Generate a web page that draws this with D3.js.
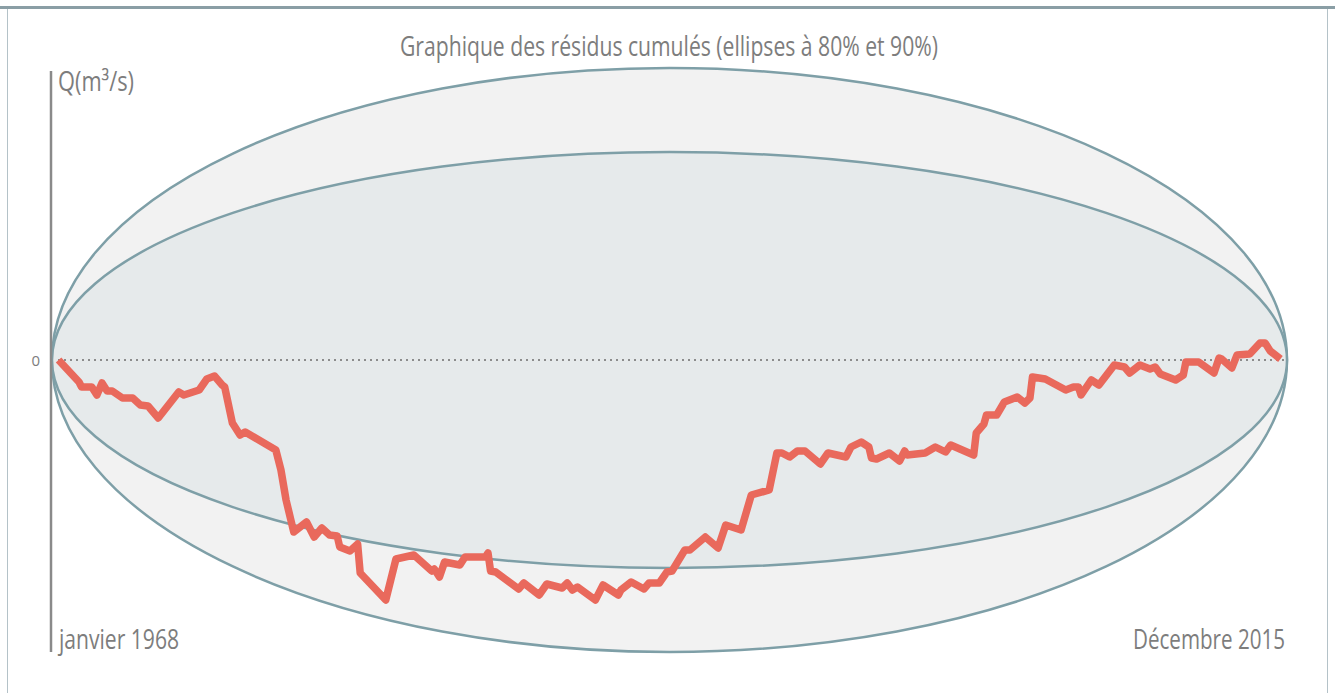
<!DOCTYPE html>
<html>
<head>
<meta charset="utf-8">
<script src="https://cdn.jsdelivr.net/npm/d3@7"></script>
<style>
  html, body { margin: 0; padding: 0; background: #fff; }
  svg { display: block; }
  text { font-family: "Open Sans", "DejaVu Sans", sans-serif; fill: #7d7d7d; }
</style>
</head>
<body>
<div id="chart"></div>
<script>
// Cumulative residuals chart with 80% / 90% confidence ellipses
const W = 1335, H = 693;

// decimal years of each vertex and the cumulative residual
const years = [
  1968.1, 1968.9, 1969.0, 1969.4, 1969.6, 1969.8, 1970.0, 1970.2, 1970.6, 1971.0,
  1971.3, 1971.6, 1972.0, 1972.8, 1973.0, 1973.6, 1973.9, 1974.2, 1974.5, 1974.6,
  1974.9, 1975.2, 1975.4, 1976.6, 1976.8, 1977.0, 1977.3, 1977.8, 1978.1, 1978.4,
  1978.7, 1979.0, 1979.1, 1979.5, 1979.8, 1979.9, 1980.9, 1981.3, 1982.0, 1982.7,
  1982.8, 1983.0, 1983.2, 1983.8, 1984.0, 1984.8, 1984.9, 1985.0, 1985.2, 1986.1,
  1986.3, 1986.9, 1987.2, 1987.8, 1988.0, 1988.2, 1988.4, 1989.1, 1989.4, 1990.0,
  1990.1, 1990.5, 1991.0, 1991.2, 1991.6, 1991.9, 1992.1, 1992.6, 1992.8, 1993.4,
  1993.9, 1994.2, 1994.8, 1995.2, 1995.9, 1996.2, 1996.4, 1996.7, 1997.0, 1997.3,
  1997.9, 1998.2, 1998.9, 1999.1, 1999.5, 1999.8, 1999.9, 2000.1, 2000.6, 2001.0,
  2001.2, 2001.3, 2002.0, 2002.4, 2002.8, 2003.0, 2003.9, 2004.0, 2004.3, 2004.4,
  2004.8, 2005.1, 2005.6, 2005.9, 2006.1, 2006.2, 2006.7, 2007.5, 2007.8, 2008.0,
  2008.1, 2008.5, 2008.8, 2009.4, 2009.8, 2010.0, 2010.4, 2010.8, 2011.0, 2011.2,
  2011.8, 2012.1, 2012.2, 2012.7, 2013.3, 2013.5, 2013.6, 2014.0, 2014.2, 2014.7,
  2015.1, 2015.3, 2015.5, 2015.9
];
const residuals = [
  0, -22, -27, -27, -35, -23, -31, -31, -38, -38,
  -45, -46, -58, -32, -35, -30, -19, -16, -25, -27,
  -63, -75, -72, -90, -110, -140, -172, -162, -177, -168,
  -175, -176, -187, -191, -184, -213, -240, -199, -195, -211,
  -209, -217, -202, -205, -197, -197, -193, -211, -212, -229,
  -223, -235, -224, -228, -223, -230, -227, -240, -225, -235,
  -230, -222, -229, -223, -223, -212, -211, -190, -190, -177,
  -188, -165, -170, -135, -130, -93, -93, -97, -91, -91,
  -104, -93, -97, -87, -82, -87, -98, -99, -93, -101,
  -91, -95, -93, -87, -92, -85, -95, -73, -64, -55,
  -55, -42, -37, -43, -38, -17, -19, -30, -27, -27,
  -35, -20, -25, -5, -7, -13, -5, -9, -7, -14,
  -20, -15, -2, -2, -13, 2, 1, -8, 5, 6,
  17, 17, 9, 1
];

// ellipse half-heights (same units as residuals)
const ellipseLevels = [90, 80];
const ellipseHalf = [292, 208];

const titleText = "Graphique des résidus cumulés (ellipses à 80% et 90%)";
const yLabel = "Q(m³/s)";
const startLabel = "janvier 1968";
const endLabel = "Décembre 2015";
const period = [1968, 2016];

const svg = d3.select("#chart").append("svg").attr("width", W).attr("height", H);

const x = d3.scaleLinear().domain(period).range([56, 1283]);
const y = d3.scaleLinear().domain([-292, 292]).range([652, 68]);

// page frame
svg.append("line").attr("x1", 0).attr("x2", W).attr("y1", 7.5).attr("y2", 7.5)
  .attr("stroke", "#8a9ea5").attr("stroke-width", 3);
svg.append("line").attr("x1", 7.5).attr("x2", 7.5).attr("y1", 9).attr("y2", H)
  .attr("stroke", "#b4c2c8").attr("stroke-width", 1);
svg.append("line").attr("x1", 1327.5).attr("x2", 1327.5).attr("y1", 9).attr("y2", H)
  .attr("stroke", "#b4c2c8").attr("stroke-width", 1);

// ellipses (outer 90%, inner 80%)
const cx = (x(period[0]) + x(period[1])) / 2;
const rx = (x(period[1]) - x(period[0])) / 2 + 4;
svg.append("g").selectAll("ellipse")
  .data(ellipseLevels.map((lvl, i) => ({ lvl, half: ellipseHalf[i] })))
  .join("ellipse")
  .attr("cx", cx)
  .attr("cy", y(0))
  .attr("rx", rx)
  .attr("ry", d => y(0) - y(d.half))
  .attr("fill", d => d.lvl === 90 ? "#f2f2f2" : "#e6eaeb")
  .attr("stroke", "#7e9fa7")
  .attr("stroke-width", 2.5);

// zero reference line
svg.append("line")
  .attr("x1", x(period[0]) + 2).attr("x2", x(period[1]) + 2)
  .attr("y1", y(0)).attr("y2", y(0))
  .attr("stroke", "#8c8c8c").attr("stroke-width", 2)
  .attr("stroke-dasharray", "2,4");

// y axis
svg.append("line").attr("x1", 51).attr("x2", 51).attr("y1", 71).attr("y2", 652)
  .attr("stroke", "#8a8a8a").attr("stroke-width", 2.5);
svg.append("text").attr("x", 40).attr("y", y(0) + 6)
  .attr("text-anchor", "end").attr("font-size", 15).text("0");

// cumulative residual line
const pts = years.map((yr, i) => [yr, residuals[i]]);
svg.append("path")
  .datum(pts)
  .attr("fill", "none")
  .attr("stroke", "#e9695c")
  .attr("stroke-width", 7.5)
  .attr("stroke-linejoin", "round")
  .attr("d", d3.line().x(d => x(d[0])).y(d => y(d[1])));

// texts (condensed look by fitting to measured widths)
function label(txt, px, py, size, width, anchor) {
  svg.append("text")
    .attr("x", px).attr("y", py)
    .attr("font-size", size)
    .attr("text-anchor", anchor || "start")
    .attr("textLength", width)
    .attr("lengthAdjust", "spacingAndGlyphs")
    .text(txt);
}
label(titleText, 400, 56, 27, 538);
label(yLabel, 58, 91, 27, 76);
label(startLabel, 59, 649, 27, 120);
label(endLabel, 1133, 649, 27, 152);
</script>
</body>
</html>
